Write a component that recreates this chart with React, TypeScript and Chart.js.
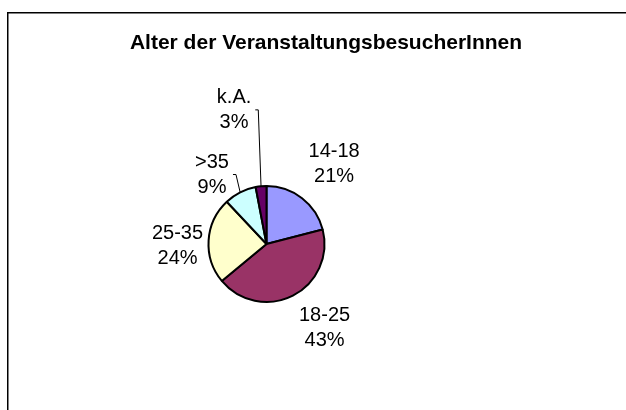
import React, { useEffect, useRef } from "react";
import { Chart, registerables } from "chart.js";

Chart.register(...registerables);

const chartTitle = "Alter der VeranstaltungsbesucherInnen";
const categories = ["14-18", "18-25", "25-35", ">35", "k.A."];
const shares = [21, 43, 24, 9, 3];
const sliceColors = ["#9999FF", "#993366", "#FFFFCC", "#CCFFFF", "#660066"];

// label placement relative to each slice (style): angle shift in degrees, gap beyond rim in px
const labelAngleShift = [2.4, -7.5, -4.9, -11.1, -8.2];
const labelGap = [46.7, 44.5, 31, 30.3, 80];
const labelLeader = [false, false, false, true, true];

const FONT = '"Liberation Sans", Arial, Helvetica, sans-serif';

const framePlugin = {
  id: "frameAndTitle",
  beforeDraw(chart: any) {
    const ctx = chart.ctx;
    ctx.save();
    ctx.fillStyle = "#ffffff";
    ctx.fillRect(0, 0, chart.width, chart.height);
    ctx.fillStyle = "#000000";
    ctx.fillRect(7, 12, 1.5, chart.height);
    ctx.fillRect(7, 12, chart.width, 1.5);
    ctx.font = "bold 21px " + FONT;
    ctx.textAlign = "center";
    ctx.textBaseline = "alphabetic";
    ctx.fillText(chartTitle, 326, 49);
    ctx.restore();
  },
};

const labelPlugin = {
  id: "pieLabels",
  afterDatasetsDraw(chart: any) {
    const ctx = chart.ctx;
    const meta = chart.getDatasetMeta(0);
    const data = chart.data.datasets[0].data as number[];
    const labels = chart.data.labels as string[];
    const total = data.reduce((a, b) => a + b, 0);
    ctx.save();
    ctx.font = "20px " + FONT;
    ctx.fillStyle = "#000";
    ctx.textAlign = "center";
    ctx.textBaseline = "middle";
    const lh = 25;
    meta.data.forEach((arc: any, i: number) => {
      const { x, y, startAngle, endAngle, outerRadius } = arc.getProps(
        ["x", "y", "startAngle", "endAngle", "outerRadius"],
        true
      );
      const mid = (startAngle + endAngle) / 2;
      const a = mid + (labelAngleShift[i] * Math.PI) / 180;
      const d = outerRadius + labelGap[i];
      const lx = x + Math.cos(a) * d;
      const ly = y + Math.sin(a) * d;
      const pct = Math.round((data[i] / total) * 100) + "%";
      ctx.fillText(labels[i], lx, ly - lh / 2);
      ctx.fillText(pct, lx, ly + lh / 2);
      if (labelLeader[i]) {
        const w = Math.max(ctx.measureText(labels[i]).width, ctx.measureText(pct).width);
        const sx = lx + w / 2 + 4;
        const ex = x + Math.cos(mid) * outerRadius;
        const ey = y + Math.sin(mid) * outerRadius;
        ctx.beginPath();
        ctx.moveTo(sx, ly);
        ctx.lineTo(sx + 3, ly);
        ctx.lineTo(ex, ey);
        ctx.lineWidth = 1;
        ctx.strokeStyle = "#000";
        ctx.stroke();
      }
    });
    ctx.restore();
  },
};

export default function App() {
  const ref = useRef<HTMLCanvasElement | null>(null);
  useEffect(() => {
    if (!ref.current) return;
    const chart = new Chart(ref.current, {
      type: "pie",
      data: {
        labels: categories,
        datasets: [
          {
            data: shares,
            backgroundColor: sliceColors,
            borderColor: "#000000",
            borderWidth: 2,
            radius: 58,
          } as any,
        ],
      },
      options: {
        responsive: false,
        animation: false,
        devicePixelRatio: 1,
        layout: { padding: { left: 0, right: 93, top: 78, bottom: 0 } },
        plugins: {
          legend: { display: false },
          title: { display: false },
          tooltip: { enabled: false },
        },
      },
      plugins: [framePlugin, labelPlugin],
    });
    return () => chart.destroy();
  }, []);
  return (
    <div style={{ position: "absolute", left: 0, top: 0, width: 626, height: 410 }}>
      <canvas ref={ref} width={626} height={410} style={{ display: "block" }} />
    </div>
  );
}
